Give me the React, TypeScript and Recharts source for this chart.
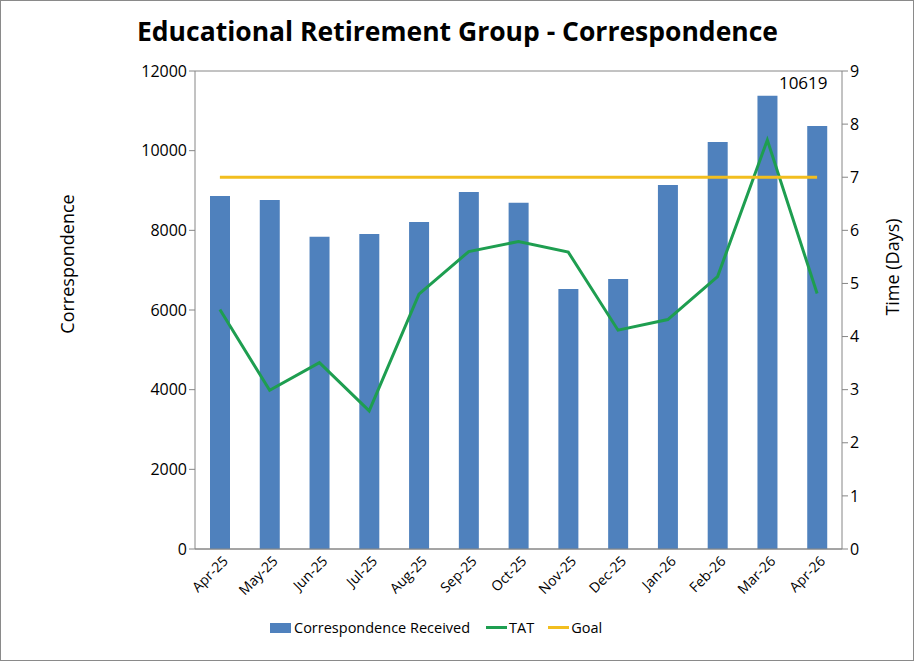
import { ComposedChart, Bar, Line, XAxis, YAxis, CartesianGrid, Legend, LabelList } from 'recharts';

// Monthly correspondence volume and turnaround time (days)
const months = ['Apr-25', 'May-25', 'Jun-25', 'Jul-25', 'Aug-25', 'Sep-25', 'Oct-25', 'Nov-25', 'Dec-25', 'Jan-26', 'Feb-26', 'Mar-26', 'Apr-26'];
const received = [8860, 8760, 7840, 7910, 8210, 8960, 8690, 6530, 6780, 9140, 10220, 11380, 10619];
const tat = [4.51, 2.99, 3.51, 2.6, 4.8, 5.6, 5.79, 5.59, 4.12, 4.32, 5.13, 7.7, 4.81];
const goal = [7, 7, 7, 7, 7, 7, 7, 7, 7, 7, 7, 7, 7];
const leftTicks = [0, 2000, 4000, 6000, 8000, 10000, 12000];
const rightTicks = [0, 1, 2, 3, 4, 5, 6, 7, 8, 9];

const data = months.map((m, i) => ({ month: m, received: received[i], tat: tat[i], goal: goal[i] }));

const FONT = '"Open Sans", sans-serif';
const BLUE = '#4F81BD';
const GREEN = '#1E9E50';
const GOLD = '#F2BE1F';
const GRID = '#868686';

const lastIdx = months.length - 1;

// only the final month carries a data label in the original
const renderValueLabel = (props: any) => {
  const { x, y, width, index, value } = props;
  if (index !== lastIdx) return null;
  return (
    <text x={x + width / 2 - 14} y={y - 37} textAnchor="middle" fontSize={17} fill="#000" fontFamily={FONT}>
      {value}
    </text>
  );
};

const renderLegend = () => (
  <div style={{ display: 'flex', alignItems: 'center', fontFamily: FONT, fontSize: 14.5, color: '#000', paddingLeft: 270, paddingTop: 9 }}>
    <span style={{ display: 'inline-block', width: 21, height: 10, background: BLUE, marginRight: 3 }} />
    <span style={{ marginRight: 16 }}>Correspondence Received</span>
    <span style={{ display: 'inline-block', width: 21, height: 3, background: GREEN, marginRight: 2 }} />
    <span style={{ marginRight: 14 }}>TAT</span>
    <span style={{ display: 'inline-block', width: 21, height: 3, background: GOLD, marginRight: 2 }} />
    <span>Goal</span>
  </div>
);

export default function App() {
  return (
    <div style={{ position: 'absolute', left: 0, top: 0, width: 915, height: 662, background: '#fff' }}>
      <div style={{ position: 'absolute', left: 0, top: 0, width: 912, height: 659, border: '1px solid #8a8a8a' }} />
      <div
        style={{
          position: 'absolute', left: 0, top: 13, width: 915, textAlign: 'center',
          fontFamily: FONT, fontWeight: 'bold', fontSize: 26.5, color: '#000',
        }}
      >
        Educational Retirement Group - Correspondence
      </div>
      <ComposedChart width={915} height={662} data={data} margin={{ top: 71, right: 0, bottom: 0, left: 0 }}>
        <CartesianGrid horizontal vertical={false} stroke={GRID} />
        <XAxis
          dataKey="month"
          height={60}
          interval={0}
          axisLine={{ stroke: GRID }}
          tickLine={false}
          tick={{ fontSize: 14, fill: '#000', fontFamily: FONT }}
          angle={-45}
          textAnchor="end"
          dx={2}
          dy={-2}
        />
        <YAxis
          yAxisId="left"
          width={195}
          domain={[0, 12000]}
          ticks={leftTicks}
          axisLine={{ stroke: GRID }}
          tickLine={{ stroke: GRID }}
          tickSize={6}
          tick={{ fontSize: 16, fill: '#000', fontFamily: FONT }}
          label={{
            content: ({ viewBox }: any) => (
              <text
                x={viewBox.x + 74}
                y={264}
                transform={`rotate(-90, ${viewBox.x + 74}, 264)`}
                textAnchor="middle"
                fontSize={18}
                fontFamily={FONT}
                fill="#000"
              >
                Correspondence
              </text>
            ),
          }}
        />
        <YAxis
          yAxisId="right"
          orientation="right"
          width={73}
          domain={[0, 9]}
          ticks={rightTicks}
          axisLine={{ stroke: GRID }}
          tickLine={{ stroke: GRID }}
          tickSize={6}
          tick={{ fontSize: 16, fill: '#000', fontFamily: FONT }}
          label={{
            content: ({ viewBox }: any) => (
              <text
                x={viewBox.x + 57}
                y={267}
                transform={`rotate(-90, ${viewBox.x + 57}, 267)`}
                textAnchor="middle"
                fontSize={18}
                fontFamily={FONT}
                fill="#000"
              >
                Time (Days)
              </text>
            ),
          }}
        />
        <Legend verticalAlign="bottom" height={53} content={renderLegend} />
        <Bar yAxisId="left" dataKey="received" name="Correspondence Received" fill={BLUE} barSize={20} isAnimationActive={false}>
          <LabelList dataKey="received" content={renderValueLabel} />
        </Bar>
        <Line yAxisId="right" dataKey="tat" name="TAT" stroke={GREEN} strokeWidth={3} dot={false} type="linear" isAnimationActive={false} />
        <Line yAxisId="right" dataKey="goal" name="Goal" stroke={GOLD} strokeWidth={3} dot={false} type="linear" isAnimationActive={false} />
      </ComposedChart>
    </div>
  );
}
